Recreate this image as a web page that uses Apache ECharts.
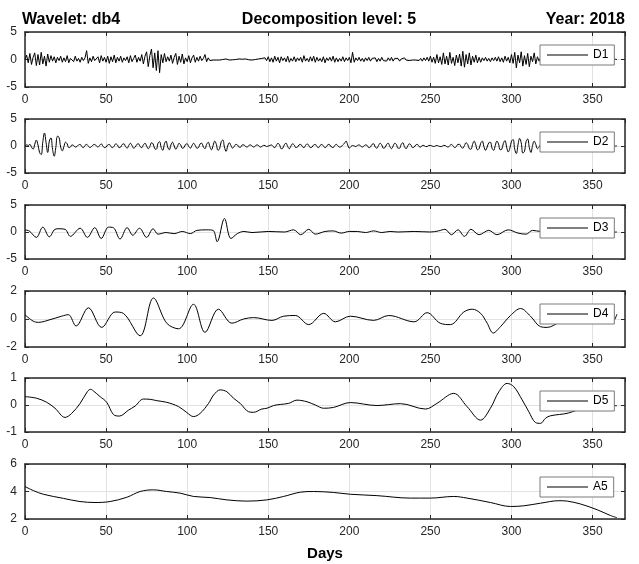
<!DOCTYPE html>
<html>
<head>
<meta charset="utf-8">
<script src="https://cdn.jsdelivr.net/npm/echarts@6/dist/echarts.min.js"></script>
<style>
html, body { margin: 0; background: #fff; }
#chart { width: 639px; height: 564px; }
</style>
</head>
<body>
<div id="chart"></div>
<script>
// D1 and D2: one value per day (day 0..365)
const d1Vals = [
  0, 0.8, -0.6, 1.1, -0.9, 0.4, 1.2, -1.1, 0.9, -1.0,
  1.3, -0.8, 0.6, -1.2, 1.0, -0.5, 0.7, -0.3, 0.5, -0.6,
  0.4, -0.2, 0.6, -0.5, 0.3, -0.4, 0.7, -0.6, 0.2, 0.5,
  -0.4, 0.6, -0.3, 0.2, -0.5, 0.4, -0.2, 0.3, 1.6, -0.7,
  0.3, -0.4, 0.6, -0.2, 0.1, 0.5, -0.6, 0.7, -0.3, 0.4,
  -0.5, 0.6, -0.7, 0.5, -0.4, 0.8, -0.6, 0.4, -0.3, 0.6,
  -0.5, 0.3, -0.2, 0.5, -0.6, 0.7, -0.4, 0.2, 0.8, -0.5,
  0.4, -0.3, 0.9, -0.8, 0.6, 1.4, -1.3, 0.7, 1.9, -1.5,
  1.2, -2.0, 1.6, -2.4, 0.9, -0.6, 1.1, -0.4, 0.5, -0.3,
  0.8, -0.7, 0.4, 1.1, -0.9, 0.6, -0.5, 1.0, -0.8, 0.3,
  -0.4, 0.7, -0.6, 0.3, 0.8, -0.5, 0.4, -0.3, 0.6, -0.2,
  0.2, 0.9, -0.4, 0.3, -0.2, 0.1, -0.1, 0.2, -0.1, 0.1,
  -0.1, 0.1, 0, -0.1, 0.1, 0, -0.1, 0.1, -0.05, 0.05,
  0, -0.1, 0.1, -0.05, 0.05, -0.1, 0.1, 0, -0.05, 0.1,
  -0.1, 0.05, 0, -0.1, 0.1, -0.15, 0.2, -0.1, 0.3, -0.2,
  0.5, -0.4, 0.3, -0.5, 0.6, -0.3, 0.4, -0.6, 0.5, -0.2,
  0.3, -0.4, 0.6, -0.5, 0.2, -0.3, 0.5, -0.4, 0.3, -0.2,
  0.4, -0.5, 0.7, -0.3, 0.2, -0.4, 0.5, -0.3, 0.6, -0.5,
  0.4, -0.3, 0.2, -0.4, 0.5, -0.6, 0.3, -0.2, 0.4, -0.3,
  0.6, -0.5, 0.3, -0.4, 0.2, -0.3, 0.5, -0.4, 0.3, -0.2,
  0.4, -0.6, 1.3, -0.5, 0.3, -0.2, 0.4, -0.3, 0.2, -0.4,
  0.3, -0.2, 0.4, -0.3, 0.2, -0.1, 0.3, -0.4, 0.2, -0.3,
  0.4, -0.2, 0.1, -0.3, 0.3, -0.2, 0.4, -0.3, 0.2, -0.1,
  0.2, -0.3, 0.1, -0.2, 0.3, -0.1, 0.2, -0.2, 0.1, -0.1,
  0.2, -0.1, 0.1, -0.2, 0.2, -0.3, 0.3, -0.2, 0.4, -0.3,
  0.6, -0.5, 0.4, -0.7, 0.9, -0.6, 0.5, -0.9, 1.2, -0.8,
  0.6, -1.0, 1.3, -0.7, 0.4, -1.1, 0.8, -0.6, 1.0, -1.2,
  1.5, -1.4, 0.9, -0.8, 1.2, -1.0, 0.6, -0.5, 0.8, -0.6,
  0.4, -0.5, 0.3, -0.2, 0.4, -0.3, 0.2, -0.4, 0.3, -0.2,
  0.4, -0.3, 0.5, -0.4, 0.3, -0.5, 0.6, -0.3, 0.4, -0.6,
  0.9, -0.7, 1.3, -1.5, 0.8, -0.6, 1.4, -1.2, 0.7, -0.9,
  1.1, -1.3, 0.6, -0.4, 1.2, -0.8, 0.5, -0.3, 0.4, -0.2,
  0.3, -0.4, 0.2, -0.3, 0.4, -0.2, 0.3, -0.1, 0.2, -0.3,
  0.3, -0.2, 0.4, -0.3, 0.2, -0.2, 0.3, -0.4, 0.2, -0.1,
  0.2, -0.3, 0.3, -0.2, 0.1, -0.2, 0.3, -0.2, 0.1, -0.1,
  0.2, -0.2, 0.1, -0.1, 0.2, -0.3, 0.2, -0.1, 0.1, -0.2,
  0.1, -0.1, 0.2, -0.1, 0.05, 0
];
const d2Vals = [
  0, 0.2, 0.1, 0.3, -0.2, -0.6, 0.3, 1.1, 0.2, -1.2,
  -1.6, 0.8, 2.4, 0.6, -1.2, 0.9, 1.5, -0.6, -1.9, -0.3,
  1.8, 1.6, -0.2, -0.9, -0.1, 0.7, 0.4, -0.3, -0.2, 0.2,
  0.1, -0.2, -0.1, 0.2, 0.3, -0.1, -0.3, 0.1, 0.3, 0,
  -0.3, -0.1, 0.2, 0.3, 0, -0.2, 0.1, 0.4, 0, -0.3,
  -0.2, 0.2, 0.3, -0.1, -0.3, 0, 0.4, 0.2, -0.3, -0.2,
  0.3, 0.4, -0.1, -0.4, 0.1, 0.5, 0.1, -0.4, -0.2, 0.3,
  0.4, -0.1, -0.3, 0.2, 0.5, 0, -0.5, -0.1, 0.6, 0.4,
  -0.5, -0.6, 0.5, 0.8, -0.3, -0.8, 0.4, 0.9, -0.2, -0.7,
  0.2, 0.7, 0, -0.6, -0.1, 0.5, 0.2, -0.4, -0.3, 0.3,
  0.4, -0.1, -0.4, 0.1, 0.5, 0.1, -0.4, -0.3, 0.4, 0.5,
  -0.2, -0.5, 0.3, 0.7, -0.1, -0.7, 0.1, 0.9, 0.3, -0.8,
  -0.5, 0.8, 1.1, -0.2, -1.0, 0, 0.6, 0.1, -0.4, -0.1,
  0.3, 0.2, -0.2, -0.2, 0.2, 0.2, -0.1, -0.2, 0.1, 0.2,
  0, -0.2, 0, 0.2, 0.1, -0.2, -0.1, 0.1, 0.1, -0.1,
  0, 0.1, 0.2, -0.1, -0.3, 0.1, 0.5, 0.2, -0.5, -0.4,
  0.3, 0.5, -0.1, -0.5, 0, 0.4, 0.2, -0.3, -0.2, 0.2,
  0.3, -0.1, -0.3, 0.1, 0.4, 0.1, -0.3, -0.2, 0.2, 0.3,
  -0.1, -0.3, 0.1, 0.3, 0, -0.3, -0.1, 0.3, 0.2, -0.2,
  -0.3, 0.1, 0.3, 0, -0.2, -0.1, 0.2, 0.5, 0.9, 0.2,
  -0.4, -0.1, 0.1, 0, -0.1, 0.1, 0.2, 0, -0.2, 0,
  0.2, 0.1, -0.3, -0.2, 0.3, 0.4, -0.2, -0.4, 0.1, 0.5,
  0.2, -0.4, -0.3, 0.3, 0.5, -0.1, -0.5, 0, 0.5, 0.3,
  -0.4, -0.4, 0.3, 0.6, -0.1, -0.5, 0, 0.4, 0.2, -0.3,
  -0.2, 0.2, 0.3, -0.1, -0.2, 0.1, 0.1, -0.1, -0.1, 0.1,
  0.1, 0, -0.1, 0, 0.1, 0, -0.1, -0.1, 0.1, 0.1,
  -0.1, -0.2, 0.1, 0.3, 0, -0.3, -0.1, 0.3, 0.3, -0.2,
  -0.4, 0.1, 0.6, 0.3, -0.5, -0.6, 0.3, 0.9, 0.2, -0.7,
  -0.5, 0.5, 0.9, -0.1, -0.8, -0.2, 0.6, 0.7, -0.4, -0.8,
  0.1, 0.9, 0.4, -0.7, -0.6, 0.5, 1.0, -0.2, -1.1, -0.4,
  0.9, 1.2, -0.6, -1.4, 0.2, 1.4, 0.6, -1.3, -1.0, 0.8,
  1.3, -0.3, -1.2, 0.1, 0.9, 0.3, -0.5, -0.2, 0.3, 0.2,
  -0.2, -0.2, 0.2, 0.3, -0.1, -0.3, 0, 0.3, 0.1, -0.2,
  -0.2, 0.2, 0.3, -0.1, -0.3, 0, 0.3, 0.2, -0.2, -0.2,
  0.1, 0.2, 0, -0.2, -0.1, 0.2, 0.1, -0.1, -0.2, 0.1,
  0.2, 0, -0.2, -0.1, 0.1, 0.1, -0.1, -0.1, 0.1, 0.1,
  0, -0.1, 0, 0.1, 0, 0
];

// D3..A5: smoother curves, read at their turning points (day, value)
const d3Days = [0, 1, 3, 7, 11, 15, 18.5, 21, 24.7, 28, 34, 38.5, 43, 47, 51.5, 54.5, 58.6, 63, 66.5, 70.6,
  75, 79, 82, 87, 92, 97, 102, 106, 112, 116, 118.5, 123, 127, 131, 135, 140, 150, 160, 165.6, 170,
  175, 179, 185, 190, 195, 200, 205, 210, 215, 220, 225, 230, 240, 250, 255, 259, 263, 267, 271, 275,
  280, 286, 291, 298, 304, 309, 313, 318, 325, 335, 345, 355, 365];
const d3Vals = [0.3, 0.35, 0.1, -1.0, 0.9, -0.9, 0.5, 0.6, 0.5, -0.8, 0.7, -1.0, 0.8, -1.2, 0.9, 0.8, -1.3, 0.8, -0.6, 0.7,
  -1.0, 0.6, -0.4, -0.1, -0.3, 0.1, -0.3, 0.3, 0.4, 0.3, -1.8, 2.5, -1.2, -0.3, 0.1, -0.1, 0.1, 0, 0.4, -0.5,
  0.5, -0.4, 0.1, 0.2, -0.2, 0.1, 0.1, -0.1, 0.2, -0.1, 0.1, 0, 0.1, 0, 0.2, 0.5, -0.5, 0.4, -0.8, 0.5,
  -0.5, 0.3, -0.5, 0.4, -0.2, -0.4, 0.3, 0.1, 0.2, -0.2, 0.2, -0.1, 0];

const d4Days = [0, 5, 8.3, 15.4, 22.6, 26.7, 31.5, 39.1, 47.3, 55.6, 60.7, 71, 79.2, 87.4, 94.7, 103.9, 111, 119.3, 127.6, 134.8,
  141, 152.3, 159.5, 166.7, 174.9, 184.2, 191.4, 200.6, 215, 224.3, 240, 248, 256, 262.3, 270.6, 275.8, 281, 285, 288.7, 293.2,
  299.4, 305.6, 311.7, 317.9, 322, 330, 340, 350, 362, 365];
const d4Vals = [0.3, -0.15, -0.24, -0.05, 0.2, 0.31, -0.5, 0.8, -0.6, 0.5, 0.4, -1.2, 1.5, -0.3, -0.7, 1.05, -0.95, 0.7, -0.3, 0,
  0.1, -0.1, 0.2, 0.25, -0.4, 0.4, -0.2, 0.2, -0.1, 0.25, -0.2, 0.45, -0.3, -0.4, 0.5, 0.7, 0.4, -0.3, -1.0, -0.55,
  0.25, 0.75, 0.2, -0.55, -0.6, -0.2, 0.3, -0.1, -0.2, 0.35];

const d5Days = [0, 7.2, 13.4, 18.5, 24.7, 28.8, 34, 38.5, 40.5, 42.2, 46.3, 50.4, 54.5, 58.2, 63.8, 67.9, 73, 77.2, 81.3, 87.4, 94.7,
  99.8, 103.9, 108, 113.2, 116.3, 120.4, 124.5, 128.6, 132.7, 137.9, 141, 146, 149.2, 153.3, 157.4, 162.6, 167.7, 173.9, 179, 184.2,
  190.3, 200.6, 217, 231.5, 247, 254, 264.4, 272.6, 280.9, 287, 292.2, 297.3, 301.4, 306.6, 310.7, 314.8, 317.9, 321, 324, 335,
  345, 355, 365];
const d5Vals = [0.31, 0.25, 0.1, -0.12, -0.46, -0.31, 0.06, 0.5, 0.58, 0.52, 0.31, 0.1, -0.35, -0.41, -0.19, -0.04, 0.22, 0.21, 0.16, 0.1, -0.06,
  -0.28, -0.43, -0.31, 0.06, 0.37, 0.56, 0.49, 0.25, 0.06, -0.25, -0.27, -0.15, -0.12, -0.02, 0.02, 0.06, 0.18, 0.12, 0, -0.12,
  -0.09, 0.09, -0.02, 0.05, -0.15, 0.06, 0.43, -0.06, -0.56, -0.12, 0.49, 0.8, 0.68, 0.19, -0.25, -0.65, -0.68, -0.49, -0.4, -0.3,
  -0.1, 0, -0.03];

const a5Days = [0, 5.1, 11.3, 23.7, 33.9, 43.2, 52.5, 62.8, 71, 79.2, 87.4, 95.7, 103.9, 114.2, 124.5, 136.8, 149.2, 159.5, 169.8, 178,
  190.3, 200.6, 217, 237.7, 250, 264.4, 272.6, 287, 299.4, 307.6, 317.9, 329.2, 334.4, 342.6, 352.9, 361.1, 365];
const a5Vals = [4.36, 4.07, 3.8, 3.5, 3.27, 3.2, 3.27, 3.58, 4.0, 4.12, 4.0, 3.88, 3.64, 3.56, 3.39, 3.3, 3.39, 3.64, 3.95, 4.0,
  3.93, 3.8, 3.7, 3.52, 3.52, 3.64, 3.52, 3.2, 2.91, 2.96, 3.15, 3.33, 3.3, 3.09, 2.67, 2.25, 2.1];

const names = ['D1', 'D2', 'D3', 'D4', 'D5', 'A5'];
const yMins = [-5, -5, -5, -2, -1, 2];
const yMaxs = [5, 5, 5, 2, 1, 6];
const ySteps = [5, 5, 5, 2, 1, 2];

// layout
const panelTop = [32, 119, 205, 291, 378, 464];
const panelH = [55, 54, 54, 56, 54, 55];
const smoothing = [false, 0.4, 0.35, 0.35, 0.35, 0.35];
const FONT = '"Liberation Sans", Arial, Helvetica, sans-serif';
const AX = '#262626';

function pairs(xs, ys) {
  return xs.map((x, i) => [x, ys[i]]);
}
function daily(ys) {
  return ys.map((y, i) => [i, y]);
}

const seriesData = [
  daily(d1Vals),
  daily(d2Vals),
  pairs(d3Days, d3Vals),
  pairs(d4Days, d4Vals),
  pairs(d5Days, d5Vals),
  pairs(a5Days, a5Vals)
];

let grids = [], xAxes = [], yAxes = [], series = [], legends = [];

names.forEach((name, i) => {
  grids.push({ left: 25, right: 14, top: panelTop[i], height: panelH[i] });

  const line = { show: true, onZero: false, lineStyle: { color: AX, width: 1.5 } };
  const tick = { show: true, inside: true, length: 4, lineStyle: { color: AX } };

  xAxes.push({
    type: 'value', gridIndex: i, min: 0, max: 370, interval: 50, position: 'bottom',
    axisLine: line, axisTick: tick,
    axisLabel: { margin: 7, fontSize: 12, color: AX, fontFamily: FONT, showMaxLabel: false },
    splitLine: { show: true, lineStyle: { color: '#e2e2e2', width: 1 } }
  });
  xAxes.push({
    type: 'value', gridIndex: i, min: 0, max: 370, interval: 50, position: 'top',
    axisLine: line, axisTick: tick,
    axisLabel: { show: false },
    splitLine: { show: false }
  });

  yAxes.push({
    type: 'value', gridIndex: i, min: yMins[i], max: yMaxs[i], interval: ySteps[i], position: 'left',
    axisLine: line, axisTick: tick,
    axisLabel: { margin: 8, fontSize: 12, color: AX, fontFamily: FONT },
    splitLine: { show: true, lineStyle: { color: '#e2e2e2', width: 1 } }
  });
  yAxes.push({
    type: 'value', gridIndex: i, min: yMins[i], max: yMaxs[i], interval: ySteps[i], position: 'right',
    axisLine: line, axisTick: tick,
    axisLabel: { show: false },
    splitLine: { show: false }
  });

  series.push({
    name: name, type: 'line',
    xAxisIndex: 2 * i, yAxisIndex: 2 * i,
    data: seriesData[i],
    showSymbol: false, symbol: 'none',
    smooth: smoothing[i],
    lineStyle: { color: '#000', width: 1 },
    itemStyle: { color: '#000' }
  });

  legends.push({
    data: [name], selectedMode: false,
    left: 540, top: panelTop[i] + 13,
    backgroundColor: '#fff', borderColor: '#7a7a7a', borderWidth: 1,
    padding: [4, 6, 4, 7],
    icon: 'rect', itemWidth: 41, itemHeight: 1,
    textStyle: { fontSize: 12, color: '#000', fontFamily: FONT }
  });
});

const option = {
  animation: false,
  backgroundColor: '#fff',
  grid: grids,
  xAxis: xAxes,
  yAxis: yAxes,
  series: series,
  legend: legends,
  graphic: [
    { type: 'text', style: { text: 'Wavelet: db4', x: 22, y: 20, textAlign: 'left', textVerticalAlign: 'middle', font: 'bold 16px ' + FONT, fill: '#000' } },
    { type: 'text', style: { text: 'Decomposition level: 5', x: 329, y: 20, textAlign: 'center', textVerticalAlign: 'middle', font: 'bold 16px ' + FONT, fill: '#000' } },
    { type: 'text', style: { text: 'Year: 2018', x: 625, y: 20, textAlign: 'right', textVerticalAlign: 'middle', font: 'bold 16px ' + FONT, fill: '#000' } },
    { type: 'text', style: { text: 'Days', x: 325, y: 554, textAlign: 'center', textVerticalAlign: 'middle', font: 'bold 15px ' + FONT, fill: '#000' } }
  ]
};

const chart = echarts.init(document.getElementById('chart'), null, { renderer: 'canvas' });
chart.setOption(option);
</script>
</body>
</html>
